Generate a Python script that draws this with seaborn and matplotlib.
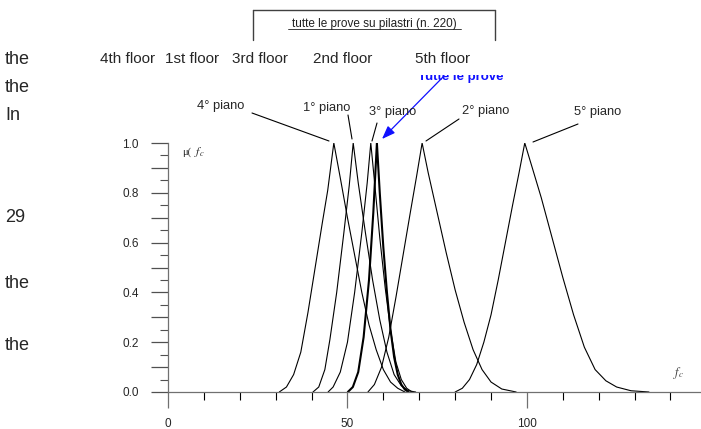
import matplotlib
matplotlib.use("Agg")

import matplotlib.pyplot as plt
import numpy as np
import pandas as pd
import seaborn as sns
from matplotlib.ticker import MultipleLocator, FuncFormatter
from matplotlib.transforms import Bbox, TransformedBbox

# ---------------------------------------------------------------------------
# Data (membership curves mu(f_c) per floor)
# ---------------------------------------------------------------------------

P4_X = [31, 33, 35, 37, 39, 41, 43, 44.5, 46.2, 48, 50, 52, 54, 56, 58, 60, 62, 64, 66]
P4_Y = [0, 0.02, 0.07, 0.16, 0.32, 0.5, 0.68, 0.81, 1.0, 0.86, 0.7, 0.55, 0.4, 0.27, 0.17, 0.09, 0.04, 0.015, 0]

P1_X = [40.4, 42, 43.7, 45.1, 47, 49, 50.5, 51.6, 53, 55, 57, 59, 61, 63, 65, 67, 69]
P1_Y = [0, 0.02, 0.09, 0.21, 0.4, 0.64, 0.83, 1.0, 0.84, 0.64, 0.45, 0.29, 0.16, 0.07, 0.025, 0.005, 0]

P3_X = [44.6, 46, 48, 50, 52, 54, 55.5, 56.5, 57.5, 59, 60.5, 62, 63.5, 65, 66.5, 68]
P3_Y = [0, 0.02, 0.08, 0.2, 0.4, 0.64, 0.84, 1.0, 0.85, 0.62, 0.42, 0.25, 0.12, 0.05, 0.015, 0]

ALL_X = [50.1, 51.5, 53, 54.5, 56, 57.2, 58.2, 59, 60, 61, 62, 63, 64, 65, 66, 67]
ALL_Y = [0, 0.02, 0.08, 0.22, 0.45, 0.72, 1.0, 0.8, 0.58, 0.4, 0.25, 0.14, 0.07, 0.03, 0.01, 0]

P2_X = [55.7, 57.5, 59.5, 61.5, 63.5, 65.5, 67.5, 69.3, 70.8, 72.5, 75, 77.5, 80, 82.5, 85, 87.5, 90, 93, 97]
P2_Y = [0, 0.03, 0.1, 0.22, 0.38, 0.55, 0.72, 0.87, 1.0, 0.88, 0.72, 0.56, 0.41, 0.28, 0.17, 0.09, 0.04, 0.012, 0]

P5_X = [80, 82, 84, 86, 88, 90, 92, 94, 96, 97.8, 99.4, 101.5, 104, 107, 110, 113, 116, 119, 122, 125, 129, 134]
P5_Y = [0, 0.015, 0.05, 0.11, 0.2, 0.31, 0.45, 0.6, 0.75, 0.88, 1.0, 0.9, 0.78, 0.62, 0.46, 0.31, 0.18, 0.09, 0.045, 0.02, 0.005, 0]

FLOOR_NAMES = ["4th floor", "1st floor", "3rd floor", "2nd floor", "5th floor"]
FLOOR_X_PX = [100, 165, 232, 313, 415]
SIDE_WORDS = ["the", "the", "In", "29", "the", "the"]
SIDE_Y_PX = [59, 87, 115, 218, 283, 346]

W, H = 701, 429


def fx(px):
    return px / W


def fy(py):
    return 1 - py / H


sns.set_style("white")
plt.rcParams["font.family"] = ["Liberation Sans", "DejaVu Sans"]
plt.rcParams["mathtext.fontset"] = "stix"

fig = plt.figure(figsize=(W / 100, H / 100), dpi=100)
ax = fig.add_axes([fx(168), fy(392), (W - 168) / W, (392 - 143) / H])

curves = [
    (P4_X, P4_Y, 0.8), (P1_X, P1_Y, 0.8), (P3_X, P3_Y, 0.8),
    (ALL_X, ALL_Y, 1.5), (P2_X, P2_Y, 0.8), (P5_X, P5_Y, 0.8),
]
for xs, ys, lw in curves:
    d = pd.DataFrame({"fc": xs, "mu": ys})
    sns.lineplot(data=d, x="fc", y="mu", sort=False, color="black", lw=lw, ax=ax)

ax.set_xlim(0, 148.5)
ax.set_ylim(0, 1.0)
ax.set_xlabel("")
ax.set_ylabel("")
for s in ["top", "right"]:
    ax.spines[s].set_visible(False)
for s in ["left", "bottom"]:
    ax.spines[s].set_color("#707070")
    ax.spines[s].set_linewidth(0.9)

ax.xaxis.set_major_locator(MultipleLocator(50))
ax.xaxis.set_minor_locator(MultipleLocator(10))
ax.yaxis.set_major_locator(MultipleLocator(0.1))
ax.yaxis.set_minor_locator(MultipleLocator(0.05))
ax.yaxis.set_major_formatter(FuncFormatter(
    lambda v, p: f"{v:.1f}" if round(v * 10) % 2 == 0 else ""))
ax.tick_params(axis="x", which="major", length=11.5, width=0.9, color="#707070",
               labelsize=8.5, pad=7, direction="out")
ax.tick_params(axis="x", which="minor", length=5.5, width=0.8, color="black", direction="out")
ax.tick_params(axis="y", which="major", length=12, width=0.9, color="#505050",
               labelsize=8.5, pad=9, direction="out")
ax.tick_params(axis="y", which="minor", length=6, width=0.8, color="#505050", direction="out")
ax.tick_params(which="both", bottom=True, left=True)

# axis labels
fig.text(fx(182), fy(152), "μ(", fontsize=7.5, family="Liberation Serif", va="center")
fig.text(fx(194), fy(152), "$f_c$", fontsize=8.5, va="center")
fig.text(fx(673), fy(373), "$f_c$", fontsize=9, va="center", color="#404040")

# piano labels with leader lines
piani = [
    ("4° piano", 197, 106, (252, 113), (329, 141)),
    ("1° piano", 303, 108, (348, 115), (352, 139)),
    ("3° piano", 369, 112, (377, 123), (372, 141)),
    ("2° piano", 462, 111, (459, 119), (426, 141)),
    ("5° piano", 574, 112, (578, 124), (533, 142)),
]
for lab, tx, ty, p0, p1 in piani:
    fig.text(fx(tx), fy(ty), lab, fontsize=9.3, va="center")
    fig.add_artist(plt.Line2D([fx(p0[0]), fx(p1[0])], [fy(p0[1]), fy(p1[1])],
                              color="black", lw=0.8))

# blue "tutte le prove" (top half hidden under the floor row) with arrow
t = fig.text(fx(418), fy(80), "Tutte le prove", fontsize=9.5, fontweight="bold",
             color="#1010ff", va="baseline")
t.set_clip_box(TransformedBbox(Bbox.from_extents(0, 0, 1, fy(75)), fig.transFigure))
t.set_clip_on(True)
ax.annotate("", xy=(fx(382), fy(139)), xycoords="figure fraction",
            xytext=(fx(444), fy(76)), textcoords="figure fraction",
            arrowprops=dict(arrowstyle="-|>,head_length=0.8,head_width=0.3",
                            color="#1010ff", lw=0.9, shrinkA=0, shrinkB=0),
            annotation_clip=False)

# floor names row
for name, px in zip(FLOOR_NAMES, FLOOR_X_PX):
    fig.text(fx(px), fy(59), name, fontsize=11, va="center")

# left margin words
for word, py in zip(SIDE_WORDS, SIDE_Y_PX):
    fig.text(fx(5), fy(py), word, fontsize=13, va="center")

# title box
for xs_, ys_ in [([253, 495], [10, 10]), ([253, 253], [10, 40]), ([495, 495], [10, 40])]:
    fig.add_artist(plt.Line2D([fx(v) for v in xs_], [fy(v) for v in ys_],
                              color="#404040", lw=1.0))
fig.text(fx(374), fy(24), "tutte le prove su pilastri (n. 220)", fontsize=8.5,
         ha="center", va="center", color="#202020")
fig.add_artist(plt.Line2D([fx(288), fx(461)], [fy(29), fy(29)], color="#202020", lw=0.6))

fig.savefig("out.png", dpi=100)
